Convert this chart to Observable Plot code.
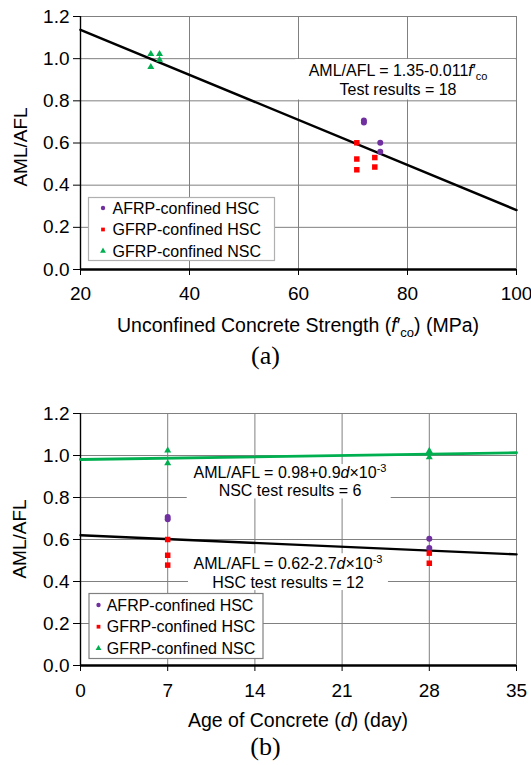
<!DOCTYPE html>
<html><head><meta charset="utf-8">
<script src="https://cdn.jsdelivr.net/npm/d3@7"></script>
<script src="https://cdn.jsdelivr.net/npm/@observablehq/plot@0.6"></script>
<style>
body{margin:0;background:#fff;font-family:"Liberation Sans",Arial,sans-serif;}
#wrap{width:531px;}
.cap{font-family:"Liberation Serif","Times New Roman",serif;font-size:26px;text-align:center;width:531px;}
svg{display:block;}
</style></head><body><div id="wrap">
<div id="a"></div><div class="cap" style="height:29px;line-height:29px">(a)</div>
<div id="b"></div><div class="cap" style="height:30px;line-height:30px">(b)</div>
</div>
<script>
// ---------- data ----------
const groups = ["AFRP-confined HSC", "GFRP-confined HSC", "GFRP-confined NSC"];
const groupColors = ["#7030a0", "#ff0000", "#00b050"];
const groupSymbols = ["circle", "square", "triangle"];

// panel (a): unconfined concrete strength f'co (MPa) vs AML/AFL
const fcoAFRP = [72, 72, 75, 75];
const ratioA_AFRP = [0.707, 0.697, 0.601, 0.558];
const fcoGFRPH = [70.7, 70.7, 70.7, 74, 74];
const ratioA_GFRPH = [0.601, 0.524, 0.473, 0.531, 0.486];
const fcoGFRPN = [32.9, 32.9, 34.5, 34.5];
const ratioA_GFRPN = [1.022, 0.96, 1.022, 0.995];
const fitA_x = [20, 100];
const fitA_y = [1.137, 0.282];

// panel (b): age of concrete d (day) vs AML/AFL
const ageAFRP = [7, 7, 28, 28];
const ratioB_AFRP = [0.707, 0.697, 0.603, 0.559];
const ageGFRPH = [7, 7, 7, 28, 28];
const ratioB_GFRPH = [0.60, 0.525, 0.478, 0.535, 0.487];
const ageGFRPN = [7, 7, 28, 28];
const ratioB_GFRPN = [1.024, 0.963, 1.022, 0.992];
const fitNSC_x = [0, 35];
const fitNSC_y = [0.981, 1.013];
const fitHSC_x = [0, 35];
const fitHSC_y = [0.620, 0.529];

// ticks
const xTicksA = [20, 40, 60, 80, 100];
const xTicksB = [0, 7, 14, 21, 28, 35];
const yTicks = [0, 0.2, 0.4, 0.6, 0.8, 1.0, 1.2];

const zip = (xs, ys) => xs.map((x, i) => ({x, y: ys[i]}));

const FONT = "Liberation Sans, Arial, sans-serif";
const GRID = "#808080";

function dots(xs, ys, g) {
  const sizes = {circle: 3, square: 3.1, triangle: 2.6};
  return Plot.dot(zip(xs, ys), {x: "x", y: "y", symbol: () => groupSymbols[g], r: sizes[groupSymbols[g]],
    fill: groupColors[g], stroke: "none"});
}

function addLegend(svg, x0, y0, w, h, rows, border, mOff, tOff) {
  const g = svg.append("g").attr("text-anchor", "start");
  g.append("rect").attr("x", x0).attr("y", y0).attr("width", w).attr("height", h)
    .attr("fill", "white").attr("stroke", border).attr("stroke-width", 1.2);
  groups.forEach((name, i) => {
    const cy = rows[i];
    const sym = [d3.symbolCircle, d3.symbolSquare, d3.symbolTriangle][i];
    const size = [15, 14, 15][i];
    g.append("path").attr("d", d3.symbol(sym, size)()).attr("transform", `translate(${x0 + mOff},${cy})`)
      .attr("fill", groupColors[i]);
    g.append("text").attr("x", x0 + tOff).attr("y", cy).attr("dy", "0.36em").attr("text-anchor", "start")
      .attr("font-size", 16).attr("font-family", FONT).attr("fill", "black").text(name);
  });
}

function rich(svg, x, y, parts, size) {
  const t = svg.append("text").attr("x", x).attr("y", y).attr("dy", "0.36em")
    .attr("text-anchor", "middle").attr("font-size", size).attr("font-family", FONT).attr("fill", "black");
  parts.forEach(p => {
    const s = t.append("tspan").text(p.t);
    if (p.i) s.attr("font-style", "italic");
    if (p.fs) s.attr("font-size", p.fs);
    if (p.dy) s.attr("dy", p.dy);
  });
  return t;
}

function yTitle(svg, x, y) {
  svg.append("text").attr("transform", `translate(${x},${y}) rotate(-90)`).attr("dy", "0.36em")
    .attr("text-anchor", "middle").attr("font-size", 19).attr("font-family", FONT).attr("fill", "black").text("AML/AFL");
}

// ---------- panel (a) ----------
const chartA = Plot.plot({
  width: 531, height: 341, marginTop: 16, marginLeft: 80, marginRight: 15, marginBottom: 72,
  x: {domain: [20, 100]}, y: {domain: [0, 1.2]},
  style: {fontSize: "19px", fontFamily: FONT, color: "black", background: "white", overflow: "visible"},
  marks: [
    Plot.gridX(xTicksA, {stroke: GRID, strokeOpacity: 1}),
    Plot.gridY(yTicks, {stroke: GRID, strokeOpacity: 1}),
    Plot.rect([{x1: 59.5, x2: 99.85, y1: 0.804, y2: 0.996}], {x1: "x1", x2: "x2", y1: "y1", y2: "y2", fill: "white"}),
    Plot.frame({stroke: GRID}),
    Plot.axisX(xTicksA, {tickSize: 6, tickPadding: 11, label: null, tickFormat: d => String(d)}),
    Plot.axisY(yTicks, {tickSize: 7, tickPadding: 4, label: null, tickFormat: d3.format(".1f")}),
    Plot.ruleX([20], {stroke: "black", strokeWidth: 1.4}),
    Plot.ruleY([0], {stroke: "black", strokeWidth: 2.6}),
    Plot.line(zip(fitA_x, fitA_y), {x: "x", y: "y", stroke: "black", strokeWidth: 2.5}),
    dots(fcoAFRP, ratioA_AFRP, 0),
    dots(fcoGFRPH, ratioA_GFRPH, 1),
    dots(fcoGFRPN, ratioA_GFRPN, 2)
  ]
});
document.getElementById("a").append(chartA);
{
  const svg = d3.select(chartA);
  addLegend(svg, 88.5, 197.5, 186, 63, [208, 229.5, 251], "#b0b0b0", 14.5, 24);
  rich(svg, 398, 70, [{t: "AML/AFL = 1.35-0.011"}, {t: "f", i: true}, {t: "′"}, {t: "co", fs: 11, dy: 4}], 16);
  rich(svg, 398, 89.5, [{t: "Test results = 18"}], 16);
  rich(svg, 298, 325, [{t: "Unconfined Concrete Strength ("}, {t: "f", i: true}, {t: "′"}, {t: "co", fs: 13, dy: 5}, {t: ") (MPa)", dy: -5}], 19.5);
  yTitle(svg, 20, 147);
}

// ---------- panel (b) ----------
const chartB = Plot.plot({
  width: 531, height: 362, marginTop: 43, marginLeft: 80, marginRight: 15, marginBottom: 67,
  x: {domain: [0, 35]}, y: {domain: [0, 1.2]},
  style: {fontSize: "19px", fontFamily: FONT, color: "black", background: "white", overflow: "visible"},
  marks: [
    Plot.gridX(xTicksB, {stroke: GRID, strokeOpacity: 1}),
    Plot.gridY(yTicks, {stroke: GRID, strokeOpacity: 1}),
    Plot.rect([{x1: 8.57, x2: 24.94, y1: 0.793, y2: 0.957}, {x1: 8.67, x2: 24.72, y1: 0.357, y2: 0.532}],
      {x1: "x1", x2: "x2", y1: "y1", y2: "y2", fill: "white"}),
    Plot.frame({stroke: GRID}),
    Plot.axisX(xTicksB, {tickSize: 6, tickPadding: 12, label: null, tickFormat: d => String(d)}),
    Plot.axisY(yTicks, {tickSize: 7, tickPadding: 4, label: null, tickFormat: d3.format(".1f")}),
    Plot.ruleX([0], {stroke: "black", strokeWidth: 1.4}),
    Plot.ruleY([0], {stroke: "black", strokeWidth: 2.6}),
    Plot.line(zip(fitNSC_x, fitNSC_y), {x: "x", y: "y", stroke: "#00b050", strokeWidth: 2.8}),
    Plot.line(zip(fitHSC_x, fitHSC_y), {x: "x", y: "y", stroke: "black", strokeWidth: 2.4}),
    dots(ageAFRP, ratioB_AFRP, 0),
    dots(ageGFRPH, ratioB_GFRPH, 1),
    dots(ageGFRPN, ratioB_GFRPN, 2)
  ]
});
document.getElementById("b").append(chartB);
{
  const svg = d3.select(chartB);
  addLegend(svg, 89, 223.5, 174, 65, [235, 256.7, 278.3], "#808080", 9.5, 17.7);
  rich(svg, 290, 102.3, [{t: "AML/AFL = 0.98+0.9"}, {t: "d", i: true}, {t: "×10"}, {t: "-3", fs: 11, dy: -6}], 16);
  rich(svg, 290, 120.7, [{t: "NSC test results = 6"}], 16);
  rich(svg, 288, 193.3, [{t: "AML/AFL = 0.62-2.7"}, {t: "d", i: true}, {t: "×10"}, {t: "-3", fs: 11, dy: -6}], 16);
  rich(svg, 288, 212.7, [{t: "HSC test results = 12"}], 16);
  rich(svg, 298, 350, [{t: "Age of Concrete ("}, {t: "d", i: true}, {t: ") (day)"}], 19.5);
  yTitle(svg, 19, 169);
}
</script>
</body></html>
